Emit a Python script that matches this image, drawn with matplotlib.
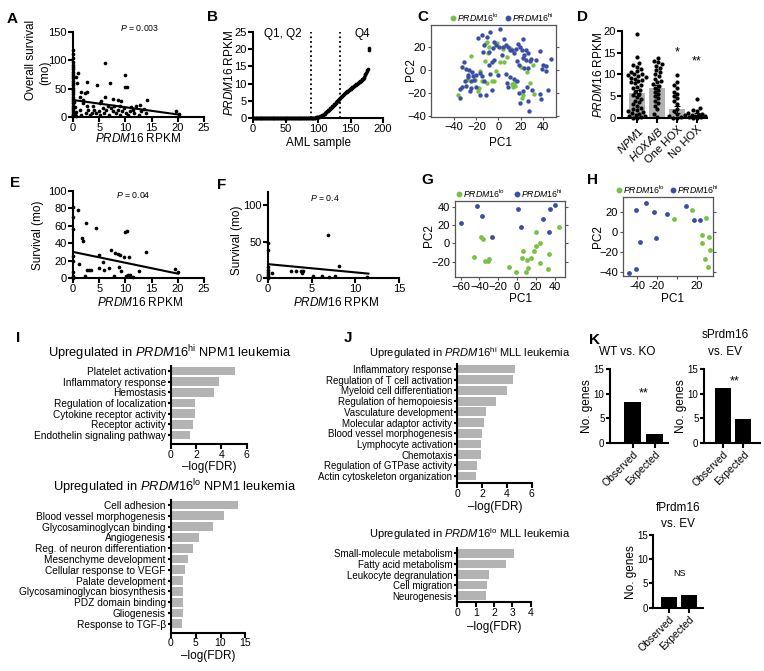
import numpy as np
import matplotlib
matplotlib.use('Agg')
import matplotlib.pyplot as plt
from matplotlib.lines import Line2D

plt.rcParams['font.family'] = ['Liberation Sans', 'DejaVu Sans']
plt.rcParams['mathtext.fontset'] = 'custom'
plt.rcParams['mathtext.rm'] = 'Liberation Sans'
plt.rcParams['mathtext.it'] = 'Liberation Sans:italic'
plt.rcParams['mathtext.bf'] = 'Liberation Sans:bold'

# ======================= DATA =======================
# Panel A: overall survival vs PRDM16 RPKM
a_x = [0]*29 + [0.5, 0.8, 1.0, 1.3, 1.9, 1.6, 2.2, 2.7, 2.7, 4.6, 6.1, 7.0, 10.0, 10.0, 10.3,
       14.2, 6.2, 7.6, 8.6, 9.2, 5.4,
       1.3, 1.6, 2.0, 2.5, 2.9, 3.2, 3.7, 4.1, 4.4, 5.0, 5.1, 5.7, 6.0, 6.3, 6.9, 7.3, 7.6,
       7.9, 8.3, 8.6, 9.0, 9.4, 9.8, 10.2, 10.5, 10.9, 11.4, 11.7, 12.1, 12.6, 13.0, 13.5,
       14.0, 12.7, 11.1, 8.9, 6.7, 5.1, 3.8, 2.7, 19.7, 20.3, 20.2, 0.3, 0.4, 0.6, 0.2, 0.5]
a_y = [118, 112, 104, 97, 92, 88, 84, 80, 76, 72, 68, 64, 60, 56, 52, 48, 44, 40, 36, 32,
       28, 24, 20, 16, 12, 9, 6, 3, 1] + \
      [70, 59.5, 78, 35, 30.4, 45, 43, 45, 62.5, 56.6, 96, 59.5, 74, 52.5, 53.7,
       30.4, 36, 31.5, 30.4, 28.6, 27.4,
       12.8, 4.1, 24.5, 7, 12.8, 4.1, 7, 12.8, 7, 9.9, 4.1, 15.8, 7, 12.8, 4.1, 15.8, 9.9,
       18.7, 7, 12.8, 4.1, 9.9, 15.8, 7, 4.1, 9.9, 12.8, 7, 18.7, 4.1, 9.9, 14,
       7, 21.6, 17.5, 19.8, 19.8, 24.5, 19.8, 18.7, 9.9, 5.8, 1.2, 5, 18, 9, 26, 2]
a_fit_x = [0, 20]
a_fit_y = [30, 4.5]
a_xticks = [0, 5, 10, 15, 20, 25]
a_yticks = [0, 50, 100, 150]

# Panel B: sorted PRDM16 RPKM per AML sample
b_vals = [0.0] * 92 + [
    0.05, 0.08, 0.1, 0.12, 0.15, 0.2, 0.25, 0.3,
    0.35, 0.42, 0.5, 0.6, 0.7, 0.8, 0.9, 1.0, 1.15, 1.3,
    1.45, 1.6, 1.75, 1.9, 2.05, 2.2, 2.4, 2.6, 2.8, 3.0,
    3.2, 3.4, 3.6, 3.8, 4.0, 4.2, 4.4, 4.6, 4.8, 5.0,
    5.2, 5.4, 5.6, 5.8, 6.0, 6.2, 6.4, 6.6, 6.8, 7.0,
    7.15, 7.3, 7.45, 7.6, 7.75, 7.9, 8.05, 8.2, 8.35, 8.5,
    8.65, 8.8, 8.95, 9.1, 9.25, 9.4, 9.55, 9.7, 9.85, 10.0,
    10.15, 10.3, 10.45, 10.6, 10.75, 10.9, 11.0, 11.2, 11.4, 11.6,
    12.0, 12.4, 12.8, 13.2, 13.6, 14.0, 14.2, 19.8, 20.3]
b_quartile_cuts = [89, 134]
b_xticks = [0, 50, 100, 150, 200]
b_yticks = [0, 5, 10, 15, 20, 25]

# Panel C: PCA (all)
c_blue_x = [-31.5, -33, -29.1, -27, -24, -23.1, -27.6, -30, -33, -35.1, -29.1, -24.9, -22.5, -20.1,
            -20.1, -26.1, -24.9, -18.9, -15, -10.5, -7.5, -12.9, -14.1, -9, -5.1, -3.9, -2.1, 1.5,
            0.9, 3.9, 6.9, 9, 10.5, 12, 14.1, 15.9, 18, 19.5, 21, 22.5, 23.1, 24.9, 27, 29.1, 33.9,
            37.5, 39.9, 42.9, 47.1, 16.5, 18.9, 22.5, 24.9, 23.1, 27, 28.5, 39, 42.9, 6.9, 10.5,
            14.1, 16.5, 9, 18.9, 22.5, 26.1, 27, 30, 37.5, 38.1, 45, 19.5, 27.9, -11.1, -16.5, -15,
            -9, -6, -8.1, 0, 3, 5.1, 7.5, -4.5, -34.5, -28, -13, -16.5, -6]
c_blue_y = [7.2, 2.9, 0.9, 0, -2.3, -5.2, -6.4, -9.6, -14.5, -16.8, -13.9, -9.3, -8.7, -4.3,
            -15.1, -18, -15.7, 27.5, 30.4, 29, 32.8, 21.7, 15.4, 15.9, 18.8, 23.8, 21.7, 35.4,
            20.3, 20.3, 21.7, 20.3, 17.4, 17.4, 14.5, 18, 22.6, 20.3, 17.4, 26.7, 13, 17.4, 14.5,
            9.3, 8.7, 16.8, 4.3, 3.5, 9.3, 7.8, 4.3, 10.1, 8.7, 1.4, 1.4, 8.1, 0.6, -0.6, -3.5,
            -6.4, -8.1, -10.1, -15.1, -19.7, -18.3, -15.1, -27.5, -17.4, -20.9, -25.2, -17.4,
            -28.4, -35.7, -22.3, -2.9, -5.2, 4.3, 7.2, -3.5, -4.3, 13, 26.7, -11.6, 8.7, -24.6,
            -4.3, -10, -21.7, -17.4]
c_green_x = [-36.6, -24.6, -21, -28.5, -17.1, -15, -11.4, -10.5, -9, -9.6, -4.5, -6, -2.1, -0.9,
             1.5, 3.9, 5.1, 7.5, 10.5, 12, 13.5, 15, 14.1, 20.4, 21, 22.5, 25.5, 28.5, 30.9, 32.1,
             -18, -12, -10.5, -18.9]
c_green_y = [-21.7, 12.2, -8.7, -8.7, -1.4, -9.6, 23.2, 24.6, 20.3, 14.5, -10.1, -10.1, -0.6, 23.2,
             7.2, 18, 6.4, 11.6, 18.8, -12.2, -14.5, -13.9, -11, 2.9, -24.6, -21.7, -2.3, -11.6,
             4.3, -20.9, -15.9, 7.8, -11, -18]

# Panel D: PRDM16 RPKM by subgroup
d_groups = ['NPM1', 'HOXA/B', 'One HOX', 'No HOX']
d_means = [5.8, 6.9, 2.0, 0.8]
d_sem = [0.7, 0.8, 0.8, 0.3]
d_npm1 = [19.4, 14.0, 12.6, 12.2, 11.8, 11.2, 10.8, 10.5, 10.2, 10.0, 9.8, 9.6, 9.4, 9.2, 9.0,
          8.8, 8.5, 8.2, 8.0, 7.6, 7.2, 6.8, 6.5, 6.0, 5.6, 5.2, 4.8, 4.4, 4.0, 3.6, 3.2, 2.8,
          2.4, 2.1, 1.8, 1.5, 1.3, 1.1, 0.9, 0.7, 0.5, 0.35, 0.2, 0.1, 0.0]
d_hoxab = [13.8, 13.2, 12.8, 12.3, 12.0, 11.5, 11.0, 10.5, 10.0, 9.6, 9.0, 8.5, 8.2, 7.8, 7.4,
           7.0, 6.5, 6.0, 5.5, 5.0, 4.5, 4.0, 3.5, 2.8, 2.0, 1.0, 0.3]
d_onehox = [9.8, 8.2, 7.5, 6.8, 6.0, 5.5, 5.0, 4.5, 3.8, 3.2, 2.0, 1.5, 1.0, 0.6, 0.4, 0.2, 0.1,
            0.0]
d_nohox = [4.3, 2.2, 1.8, 1.5, 1.2, 1.0, 0.8, 0.6, 0.5, 0.4, 0.3, 0.2, 0.1, 0.0]
d_stars = ['', '', '*', '**']
d_star_y = [0, 0, 15.0, 13.0]

# Panel E
e_x = [0, 0, 0, 0, 0, 0, 0, 0, 0.95, 1.2, 1.7, 2.0, 2.5, 2.3, 2.6, 3.1, 3.4, 4.4, 5.0, 5.0, 5.8,
       5.9, 6.8, 7.3, 8.0, 8.5, 8.9, 8.7, 9.1, 9.7, 9.9, 10.3, 10.6, 10.2, 10.5, 10.9, 11.5, 12.5,
       13.9, 19.4, 20.0, 7.8]
e_y = [82, 70, 56, 25, 20, 7, 2, 0, 78, 16, 45.6, 43, 62.7, 2, 9, 9, 9.5, 57, 27, 12, 18, 9.5,
       11.4, 32, 28.5, 27.4, 26.2, 12.5, 7.6, 24.7, 53, 54, 23.6, 2, 4, 3, 1, 8.4, 30.4, 10.3,
       6.5, 2]
e_fit_x = [0, 20]
e_fit_y = [30, 5]

# Panel F
f_x = [0, 0, 0, 0, 0, 0, 0, 0, 0, 0.5, 2.6, 3.2, 3.8, 3.9, 4.0, 5.1, 6.2, 6.9, 7.0, 7.7, 8.1, 11.3]
f_y = [48, 38, 15, 11, 8, 5, 3, 1, 0, 6.8, 9, 9, 9, 7, 10, 3, 3, 59, 2, 3, 16.8, 1]
f_fit_x = [0, 11.5]
f_fit_y = [19, 6]

# Panel G
g_blue_x = [-59.2, -43.1, -37.1, -26.4, 1.4, 3.9, 27.5, 35.3, 39.9, 33.5]
g_blue_y = [22.8, 41.2, 30.5, 6.6, 37.9, 17.7, 26.5, 37.9, 42, 12.5]
g_green_x = [-38.5, -36.7, -45.7, -33.9, -31.4, -29.9, -8.6, -1.1, 9.6, 12.1, 14.6, 5, 6.1, 10.3,
             18.2, 20.3, 23.9, 20.3, 33.5, 23.9, 32.8, 44.2]
g_green_y = [7.3, 4.4, -14.8, -19.2, -19.9, -17.7, -26.5, -31.3, -31.3, -26.9, -16.6, -16.6, -8.1,
             -18.4, -8.1, -3, 0, 12.8, -11.8, -22.1, -28.7, 18.3]

# Panel H
h_blue_x = [-48.3, -40.7, -40.7, -31, -22.7, -10, 9, 17.3, 22.7, -37.3, -21]
h_blue_y = [-41, -37, 22.3, 29.3, 20, 18, 26.3, 12.3, 12.3, -10, -5.7]
h_green_x = [15, -3.3, 29.3, 25, 31.7, 25, 32.7, 28.3, 30.7]
h_green_y = [22.3, 13.3, 14, -2.7, -5, -11.3, -18.3, -27.3, -35.7]
h_xticks = [-40, -20, 0, 20]
h_xticklabels = ['-40', '-20', '', '20']

# Panel I
i_hi_terms = ['Platelet activation', 'Inflammatory response', 'Hemostasis',
              'Regulation of localization', 'Cytokine receptor activity', 'Receptor activity',
              'Endothelin signaling pathway']
i_hi_vals = [5.1, 3.84, 3.4, 1.92, 1.87, 1.74, 1.52]
i_lo_terms = ['Cell adhesion', 'Blood vessel morphogenesis', 'Glycosaminoglycan binding',
              'Angiogenesis', 'Reg. of neuron differentiation', 'Mesenchyme development',
              'Cellular response to VEGF', 'Palate development',
              'Glycosaminoglycan biosynthesis', 'PDZ domain binding', 'Gliogenesis',
              'Response to TGF-β']
i_lo_vals = [13.5, 10.8, 8.5, 5.6, 4.45, 3.4, 2.95, 2.55, 2.5, 2.5, 2.45, 2.3]

# Panel J
j_hi_terms = ['Inflammatory response', 'Regulation of T cell activation',
              'Myeloid cell differentiation', 'Regulation of hemopoiesis',
              'Vasculature development', 'Molecular adaptor activity',
              'Blood vessel morphogenesis', 'Lymphocyte activation', 'Chemotaxis',
              'Regulation of GTPase activity', 'Actin cytoskeleton organization']
j_hi_vals = [4.65, 4.5, 4.03, 3.1, 2.28, 2.17, 2.03, 1.93, 1.9, 1.57, 1.49]
j_lo_terms = ['Small-molecule metabolism', 'Fatty acid metabolism', 'Leukocyte degranulation',
              'Cell migration', 'Neurogenesis']
j_lo_vals = [3.09, 2.68, 1.73, 1.6, 1.56]

# Panel K
k_cats = ['Observed', 'Expected']
k_wtko = [8.3, 1.8]
k_sprdm = [11.2, 4.85]
k_fprdm = [2.15, 2.6]

# ======================= FIGURE =======================
W, H = 764, 671
fig = plt.figure(figsize=(W / 100, H / 100), dpi=100)

GREEN = '#79c144'
BLUE = '#3a4fa3'
BARGRAY = '#b3b3b3'


def axp(l, t, r, b):
    return fig.add_axes([l / W, 1 - b / H, (r - l) / W, (b - t) / H])


def T(x, y, s, **kw):
    kw.setdefault('ha', 'center')
    kw.setdefault('va', 'center')
    return fig.text(x / W, 1 - y / H, s, **kw)


def dot(x, y, color, ms=3.2):
    fig.add_artist(Line2D([x / W], [1 - y / H], marker='o', ms=ms, color=color, lw=0,
                          transform=fig.transFigure))


def style_open(ax, lw=1.5, ls=8):
    for s in ['top', 'right']:
        ax.spines[s].set_visible(False)
    for s in ['left', 'bottom']:
        ax.spines[s].set_linewidth(lw)
    ax.tick_params(direction='out', length=3.5, width=lw, labelsize=ls, pad=1)


def style_box(ax):
    for s in ax.spines.values():
        s.set_linewidth(0.9)
        s.set_color('#555555')
    ax.tick_params(direction='out', length=2.5, width=0.8, labelsize=8, pad=1,
                   right=True, color='#555555')


PRDM = r'$\mathit{PRDM16}$'
LBL = 8.5

# ---------- A ----------
ax = axp(73, 32, 204, 117)
ax.scatter(a_x, a_y, s=7, c='k', linewidths=0, clip_on=False, zorder=3)
ax.plot(a_fit_x, a_fit_y, color='k', lw=1.5)
ax.set_xlim(0, 25)
ax.set_ylim(0, 150)
ax.set_xticks(a_xticks)
ax.set_yticks(a_yticks)
style_open(ax)
T(140, 28, r'$\mathit{P}$ = 0.003', fontsize=6.3)
T(31, 60, 'Overall survival', rotation=90, fontsize=LBL)
T(45, 73, '(mo)', rotation=90, fontsize=LBL)
T(138, 139, PRDM + ' RPKM', fontsize=LBL)
T(12, 19, 'A', fontsize=11, fontweight='bold')

# ---------- B ----------
ax = axp(253, 32, 383, 118)
ax.scatter(np.arange(1, len(b_vals) + 1), b_vals, s=7, c='k', linewidths=0, clip_on=False,
           zorder=3)
for c in b_quartile_cuts:
    ax.axvline(c, color='k', lw=1.3, ls=(0, (1, 1.6)))
ax.set_xlim(0, 200)
ax.set_ylim(0, 25)
ax.set_xticks(b_xticks)
ax.set_yticks(b_yticks)
style_open(ax)
T(283, 34, 'Q1, Q2', fontsize=LBL)
T(362, 34, 'Q4', fontsize=LBL)
T(229, 73, PRDM + ' RPKM', rotation=90, fontsize=LBL)
T(318, 143, 'AML sample', fontsize=LBL)
T(213, 17, 'B', fontsize=11, fontweight='bold')

# ---------- C ----------
ax = axp(431, 25, 556, 117)
ax.scatter(c_green_x, c_green_y, s=10, c=GREEN, linewidths=0, zorder=3)
ax.scatter(c_blue_x, c_blue_y, s=10, c=BLUE, linewidths=0, zorder=3)
ax.set_xlim(-61, 52)
ax.set_ylim(-41, 39)
ax.set_xticks([-40, -20, 0, 20, 40])
ax.set_yticks([-40, -20, 0, 20])
style_box(ax)
T(500, 143, 'PC1', fontsize=LBL)
T(411, 70, 'PC2', rotation=90, fontsize=LBL)
dot(453, 18, GREEN)
T(457, 18, r'$\mathit{PRDM16}^{\mathrm{lo}}$', ha='left', fontsize=6.3)
dot(508, 18, BLUE)
T(512, 18, r'$\mathit{PRDM16}^{\mathrm{hi}}$', ha='left', fontsize=6.3)
T(423, 17, 'C', fontsize=11, fontweight='bold')


# ---------- D ----------
def swarm_offsets(vals, d_px=4.0, xpx=20.0, ypx=4.37, maxw=9.5):
    placed = []
    offs = []
    grid = sorted(np.arange(-maxw, maxw + 0.01, 0.5), key=abs)
    for v in vals:
        y = v * ypx
        chosen = None
        best, best_d = 0.0, -1.0
        for cnd in grid:
            md = min([np.hypot(cnd - px, y - py) for px, py in placed] or [99.0])
            if md >= d_px:
                chosen = cnd
                break
            if md > best_d:
                best, best_d = cnd, md
        if chosen is None:
            chosen = best
        placed.append((chosen, y))
        offs.append(chosen / xpx)
    return offs


ax = axp(622, 31, 707, 118)
ax.bar(range(4), d_means, width=0.8, color=BARGRAY, zorder=1)
for i, grp in enumerate([d_npm1, d_hoxab, d_onehox, d_nohox]):
    vs = sorted(grp)
    offs = swarm_offsets(vs)
    ax.scatter([i + o for o in offs], vs, s=9, c='k', linewidths=0, zorder=3, clip_on=False)
ax.errorbar(range(4), d_means, yerr=d_sem, fmt='none', ecolor='k', elinewidth=0.8, capsize=2,
            capthick=0.8, zorder=4)
for i, (s, yy) in enumerate(zip(d_stars, d_star_y)):
    if s:
        ax.text(i, yy, s, ha='center', va='center', fontsize=9)
ax.set_xlim(-0.75, 3.5)
ax.set_ylim(0, 20)
ax.set_yticks([0, 5, 10, 15, 20])
ax.set_xticks(range(4))
ax.set_xticklabels([r'$\mathit{NPM1}$', r'$\mathit{HOXA/B}$', 'One HOX', 'No HOX'],
                   rotation=45, ha='right', rotation_mode='anchor')
style_open(ax)
T(598, 75, PRDM + ' RPKM', rotation=90, fontsize=LBL)
T(583, 17, 'D', fontsize=11, fontweight='bold')

# ---------- E ----------
ax = axp(73, 191, 204, 278)
ax.scatter(e_x, e_y, s=7, c='k', linewidths=0, clip_on=False, zorder=3)
ax.plot(e_fit_x, e_fit_y, color='k', lw=1.5)
ax.set_xlim(0, 25)
ax.set_ylim(0, 100)
ax.set_xticks([0, 5, 10, 15, 20, 25])
ax.set_yticks([0, 20, 40, 60, 80, 100])
style_open(ax)
T(133, 195, r'$\mathit{P}$ = 0.04', fontsize=6.3)
T(38, 235, 'Survival (mo)', rotation=90, fontsize=LBL)
T(140, 302, PRDM + ' RPKM', fontsize=LBL)
T(15, 183, 'E', fontsize=11, fontweight='bold')

# ---------- F ----------
ax = axp(268, 192, 399, 278)
ax.scatter(f_x, f_y, s=7, c='k', linewidths=0, clip_on=False, zorder=3)
ax.plot(f_fit_x, f_fit_y, color='k', lw=1.5)
ax.set_xlim(0, 15)
ax.set_ylim(0, 118)
ax.set_xticks([0, 5, 10, 15])
ax.set_yticks([0, 50, 100])
style_open(ax)
T(325, 198, r'$\mathit{P}$ = 0.4', fontsize=6.3)
T(237, 240, 'Survival (mo)', rotation=90, fontsize=LBL)
T(336, 302, PRDM + ' RPKM', fontsize=LBL)
T(222, 185, 'F', fontsize=11, fontweight='bold')

# ---------- G ----------
ax = axp(455, 201, 565, 277)
ax.scatter(g_green_x, g_green_y, s=12, c=GREEN, linewidths=0, zorder=3)
ax.scatter(g_blue_x, g_blue_y, s=12, c=BLUE, linewidths=0, zorder=3)
ax.set_xlim(-66, 51)
ax.set_ylim(-37, 46.7)
ax.set_xticks([-60, -40, -20, 0, 20, 40])
ax.set_yticks([-20, 0, 20, 40])
style_box(ax)
T(520, 299, 'PC1', fontsize=LBL)
T(429, 236, 'PC2', rotation=90, fontsize=LBL)
dot(459, 194, GREEN)
T(463, 194, r'$\mathit{PRDM16}^{\mathrm{lo}}$', ha='left', fontsize=6.3)
dot(517, 194, BLUE)
T(521, 194, r'$\mathit{PRDM16}^{\mathrm{hi}}$', ha='left', fontsize=6.3)
T(427, 180, 'G', fontsize=11, fontweight='bold')

# ---------- H ----------
ax = axp(623, 197, 713, 276)
ax.scatter(h_green_x, h_green_y, s=12, c=GREEN, linewidths=0, zorder=3)
ax.scatter(h_blue_x, h_blue_y, s=12, c=BLUE, linewidths=0, zorder=3)
ax.set_xlim(-54, 36)
ax.set_ylim(-44.3, 35)
ax.set_xticks(h_xticks)
ax.set_xticklabels(h_xticklabels)
ax.set_yticks([-40, -20, 0, 20])
style_box(ax)
T(673, 299, 'PC1', fontsize=LBL)
T(598, 237, 'PC2', rotation=90, fontsize=LBL)
dot(619, 190, GREEN)
T(623, 190, r'$\mathit{PRDM16}^{\mathrm{lo}}$', ha='left', fontsize=6.3)
dot(673, 190, BLUE)
T(677, 190, r'$\mathit{PRDM16}^{\mathrm{hi}}$', ha='left', fontsize=6.3)
T(593, 180, 'H', fontsize=11, fontweight='bold')


# ---------- I / J bar panels ----------
def hbar(box, terms, vals, xmax, xticks, ybot, lsize):
    ax = axp(*box)
    ax.barh(range(len(vals)), vals, height=0.82, color=BARGRAY, zorder=1)
    ax.set_ylim(ybot, -0.5)
    ax.set_xlim(0, xmax)
    ax.set_xticks(xticks)
    ax.set_yticks(range(len(terms)))
    ax.set_yticklabels(terms)
    style_open(ax, lw=1.5, ls=lsize)
    ax.tick_params(axis='y', length=2.5)
    ax.tick_params(axis='x', labelsize=7.5, pad=0.5)
    return ax


hbar((171, 365.7, 246.7, 444.3), i_hi_terms, i_hi_vals, 6, [0, 2, 4, 6], 6.87, 7.3)
T(48, 353, r'Upregulated in $\mathit{PRDM16}^{\mathrm{hi}}$ NPM1 leukemia', ha='left',
  fontsize=9.3)
T(209, 467, '–log(FDR)', fontsize=LBL)
hbar((170.7, 499.6, 245.4, 632.7), i_lo_terms, i_lo_vals, 15, [0, 5, 10, 15], 11.82, 7.3)
T(53, 487, r'Upregulated in $\mathit{PRDM16}^{\mathrm{lo}}$ NPM1 leukemia', ha='left',
  fontsize=9.3)
T(208, 656, '–log(FDR)', fontsize=LBL)
T(18, 338, 'I', fontsize=11, fontweight='bold')

hbar((457.3, 363.7, 531.7, 483.3), j_hi_terms, j_hi_vals, 6, [0, 2, 4, 6], 10.68, 7.0)
T(470, 353, r'Upregulated in $\mathit{PRDM16}^{\mathrm{hi}}$ MLL leukemia', fontsize=8.0)
T(495, 507, '–log(FDR)', fontsize=LBL)
hbar((457.3, 548, 530.7, 602.3), j_lo_terms, j_lo_vals, 4, [0, 1, 2, 3, 4], 4.62, 7.0)
T(470, 534, r'Upregulated in $\mathit{PRDM16}^{\mathrm{lo}}$ MLL leukemia', fontsize=8.0)
T(494, 627, '–log(FDR)', fontsize=LBL)
T(348, 338, 'J', fontsize=11, fontweight='bold')


# ---------- K ----------
def kbar(box, vals, xlim):
    ax = axp(*box)
    ax.bar([0, 1], vals, width=0.78, color='k', zorder=2)
    ax.set_xlim(*xlim)
    ax.set_ylim(0, 15)
    ax.set_yticks([0, 5, 10, 15])
    ax.set_xticks([0, 1])
    ax.set_xticklabels(k_cats, rotation=45, ha='right', rotation_mode='anchor')
    style_open(ax, lw=1.5, ls=7)
    ax.tick_params(axis='y', length=3)
    ax.tick_params(axis='x', labelsize=7.5)
    return ax


kbar((610, 369.3, 668, 442.7), k_wtko, (-1.03, 1.6))
T(627, 352, 'WT vs. KO', fontsize=LBL)
T(644, 393, '**', fontsize=9)
T(587, 406, 'No. genes', rotation=90, fontsize=LBL)

kbar((704, 369.3, 760, 442.7), k_sprdm, (-0.91, 1.81))
T(725, 335, 'sPrdm16', fontsize=LBL)
T(725, 352, 'vs. EV', fontsize=LBL)
T(735, 381, '**', fontsize=9)
T(681, 406, 'No. genes', rotation=90, fontsize=LBL)

kbar((653.3, 535, 703, 607.7), k_fprdm, (-0.78, 1.7))
T(678, 508, 'fPrdm16', fontsize=LBL)
T(678, 524, 'vs. EV', fontsize=LBL)
T(680, 573, 'NS', fontsize=6.5)
T(631, 572, 'No. genes', rotation=90, fontsize=LBL)
T(595, 340, 'K', fontsize=11, fontweight='bold')

fig.savefig('out.png', dpi=100)
